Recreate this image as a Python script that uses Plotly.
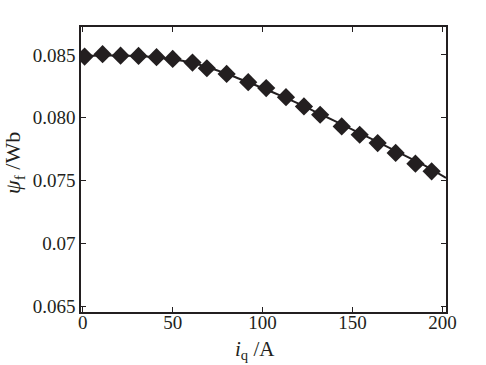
import plotly.graph_objects as go

# measured points (markers)
iq = [1, 11, 21, 31, 41, 50, 61, 69, 80, 92, 102, 113, 123, 132, 144, 154, 164, 174, 185, 194]
psi_f = [0.08487, 0.08506, 0.08494, 0.08492, 0.08482, 0.08468, 0.08439, 0.08394, 0.08349,
         0.08283, 0.08236, 0.08164, 0.08090, 0.08024, 0.07931, 0.07865, 0.07799, 0.07720,
         0.07635, 0.07574]

# fitted curve (solid line)
fit_x = [-1, 10, 20, 30, 40, 50, 60, 70, 80, 90, 100, 110, 120, 130, 140, 150, 160, 170, 180, 190, 202]
fit_y = [0.08490, 0.08495, 0.08495, 0.08491, 0.08482, 0.08466, 0.08440, 0.08400, 0.08350,
         0.08293, 0.08237, 0.08176, 0.08112, 0.08044, 0.07975, 0.07906, 0.07836, 0.07765,
         0.07693, 0.07621, 0.07521]

y_ticks = [0.065, 0.07, 0.075, 0.08, 0.085]
y_ticktext = ["0.065", "0.07", "0.075", "0.080", "0.085"]
x_ticks = [0, 50, 100, 150, 200]

fig = go.Figure()
fig.add_trace(go.Scatter(x=fit_x, y=fit_y, mode="lines", line=dict(color="#231f20", width=2, shape="spline"),
                         showlegend=False, hoverinfo="skip"))
fig.add_trace(go.Scatter(x=iq, y=psi_f, mode="markers",
                         marker=dict(symbol="diamond", size=14, color="#231f20", line=dict(width=0)),
                         showlegend=False))

font_family = "Liberation Serif"
fig.update_layout(
    width=486, height=365,
    margin=dict(l=81, r=40, t=27, b=53, autoexpand=False),
    paper_bgcolor="white", plot_bgcolor="white",
    font=dict(family=font_family, size=19, color="#231f20"),
    xaxis=dict(range=[-1, 202], tickvals=x_ticks, ticks="inside", ticklen=5, tickwidth=1,
               tickcolor="#231f20", showline=True, linecolor="#231f20", linewidth=1.5, mirror="ticks",
               showgrid=False, zeroline=False, automargin=False, ticklabelstandoff=-8),
    yaxis=dict(range=[0.06455, 0.08722], tickvals=y_ticks, ticktext=y_ticktext, ticks="inside",
               ticklen=5, tickwidth=1, tickcolor="#231f20", showline=True, linecolor="#231f20",
               linewidth=1.5, mirror="ticks", showgrid=False, zeroline=False, automargin=False),
    annotations=[
        dict(text="<i>i</i><sub>q</sub> /A", xref="paper", yref="paper", x=(255 - 81) / 365,
             y=-(350 - 312) / 285, xanchor="center", yanchor="middle", showarrow=False,
             font=dict(size=21, family=font_family)),
        dict(text="<i>ψ</i><sub>f</sub> /Wb", xref="paper", yref="paper", x=-(81 - 14) / 365,
             y=(312 - 163) / 285, xanchor="center", yanchor="middle", showarrow=False, textangle=-90,
             font=dict(size=22, family=font_family)),
    ],
)

fig.write_html("out.html", config={"displayModeBar": False},
               post_script="document.body.style.margin='0';")
